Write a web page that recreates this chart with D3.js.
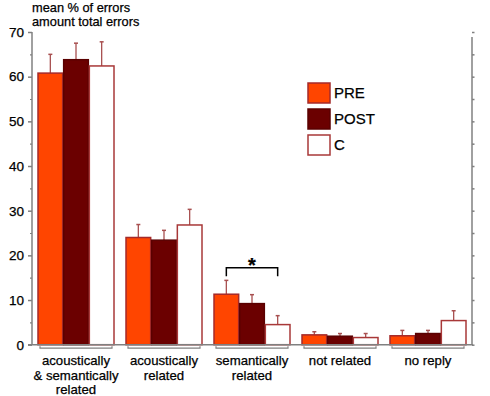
<!DOCTYPE html>
<html><head><meta charset="utf-8">
<script src="https://cdn.jsdelivr.net/npm/d3@7"></script>
<style>body{margin:0;background:#fff}svg{display:block}text{font-family:Arial,"Liberation Sans",sans-serif;stroke:#000;stroke-width:0.25px}</style>
</head><body><svg id="c" width="490" height="396"></svg>
<script>
const categories = [["acoustically","& semantically","related"],["acoustically","related"],["semantically","related"],["not related"],["no reply"]];
const series = ["PRE","POST","C"];
const meanPRE  = [60.8, 24.0, 11.3, 2.2, 2.0];
const meanPOST = [63.8, 23.4, 9.2, 1.9, 2.5];
const meanC    = [62.4, 26.8, 4.5, 1.6, 5.4];
const errPRE   = [65.0, 26.9, 14.4, 2.9, 3.2];
const errPOST  = [67.5, 25.6, 11.2, 2.5, 3.2];
const errC     = [67.8, 30.3, 6.5, 2.5, 7.6];
const yTicks = [0,10,20,30,40,50,60,70];
const yTitle = ["mean % of errors","amount total errors"];

const fills = {PRE:"#ff4500", POST:"#6b0000", C:"#ffffff"};
const strokes = {PRE:"#a52a2a", POST:"#5a0000", C:"#a83838"};
const means = {PRE:meanPRE, POST:meanPOST, C:meanC};
const errs = {PRE:errPRE, POST:errPOST, C:errC};

const svg = d3.select("#c");
const L=32, R=472, T=32, B=344.7;
const x0 = d3.scaleBand().domain(d3.range(categories.length)).range([L,R]).paddingInner(0.125).paddingOuter(0.0625);
const x1 = d3.scaleBand().domain(series).range([0,x0.bandwidth()]);
const y = d3.scaleLinear().domain([0,70]).range([B,T]);
const axisColor="#808080";

// bars
series.forEach(s=>{
  const g = svg.append("g");
  categories.forEach((c,i)=>{
    const bx = x0(i)+x1(s);
    const cx = bx + x1.bandwidth()/2;
    g.append("line").attr("x1",cx).attr("x2",cx).attr("y1",y(means[s][i])).attr("y2",y(errs[s][i]))
      .attr("stroke","#a85050").attr("stroke-width",1.3);
    g.append("line").attr("x1",cx-2).attr("x2",cx+2).attr("y1",y(errs[s][i])).attr("y2",y(errs[s][i]))
      .attr("stroke","#a85050").attr("stroke-width",1.5);
    g.append("rect").attr("x",bx+0.5).attr("y",y(means[s][i])).attr("width",x1.bandwidth()-1)
      .attr("height",B-y(means[s][i])).attr("fill",fills[s]).attr("stroke",strokes[s]).attr("stroke-width",1.5);
  });
});

// left axis
const ya = svg.append("g").attr("transform",`translate(${L},0)`)
  .call(d3.axisLeft(y).tickValues(yTicks).tickSize(4).tickPadding(4));
ya.selectAll("path,line").attr("stroke",axisColor).attr("stroke-width",1.5);
ya.select(".domain").attr("d",`M-0,${T}V${B}`);
ya.selectAll("text").attr("font-size",13.5).attr("fill","#000").attr("font-family","Arial, 'Liberation Sans', sans-serif");
const yaMinor = svg.append("g").attr("transform",`translate(${L},0)`)
  .call(d3.axisLeft(y).tickValues([5,15,25,35,45,55,65]).tickSize(2).tickFormat(""));
yaMinor.select(".domain").remove();
yaMinor.selectAll("line").attr("stroke",axisColor).attr("stroke-width",1.2);

// right axis
const ra = svg.append("g").attr("transform",`translate(${R},0)`)
  .call(d3.axisRight(y).tickValues(d3.range(0,75,5)).tickSize(2.5).tickFormat(""));
ra.select(".domain").attr("d",`M0,${T+5}V${B}`);
ra.selectAll("path,line").attr("stroke",axisColor).attr("stroke-width",1.5);

// bottom axis line
svg.append("line").attr("x1",L-4).attr("x2",R+1).attr("y1",B).attr("y2",B).attr("stroke",axisColor).attr("stroke-width",1.5);

// group brackets and labels
categories.forEach((c,i)=>{
  const a = x0(i)+2.5, b = x0(i)+x0.bandwidth()-2.5, yy = B+3.5;
  svg.append("path").attr("d",`M${a},${yy-2}V${yy}H${b}V${yy-2}`).attr("fill","none").attr("stroke",axisColor).attr("stroke-width",1.2);
  const t = svg.append("text").attr("text-anchor","middle").attr("font-size",13.2).attr("fill","#000");
  c.forEach((line,k)=>{
    t.append("tspan").attr("x",x0(i)+x0.bandwidth()/2).attr("y",365+k*14.5).text(line);
  });
});

// title
yTitle.forEach((tt,k)=>{
  svg.append("text").attr("x",32).attr("y",11.8+k*14).attr("font-size",12.8).attr("fill","#000").text(tt);
});

// significance bracket
const sx1 = x0(2)+x1("PRE")+x1.bandwidth()/2, sx2 = x0(2)+x1("C")+x1.bandwidth()/2;
svg.append("path").attr("d",`M${sx1},${y(15.3)}V${y(17.2)}H${sx2}V${y(15.3)}`).attr("fill","none").attr("stroke","#000").attr("stroke-width",1.5);
svg.append("text").attr("x",(sx1+sx2)/2).attr("y",y(17.2)+4).attr("text-anchor","middle").attr("font-size",20).attr("font-weight","bold").attr("fill","#000").text("*");

// legend
series.forEach((s,k)=>{
  const ly = 83 + k*26;
  svg.append("rect").attr("x",308).attr("y",ly).attr("width",22).attr("height",20)
    .attr("fill",fills[s]).attr("stroke",strokes[s]).attr("stroke-width",1.5);
  svg.append("text").attr("x",334).attr("y",ly+10).attr("dy","0.36em").attr("font-size",15).attr("fill","#000").text(s);
});
</script></body></html>
